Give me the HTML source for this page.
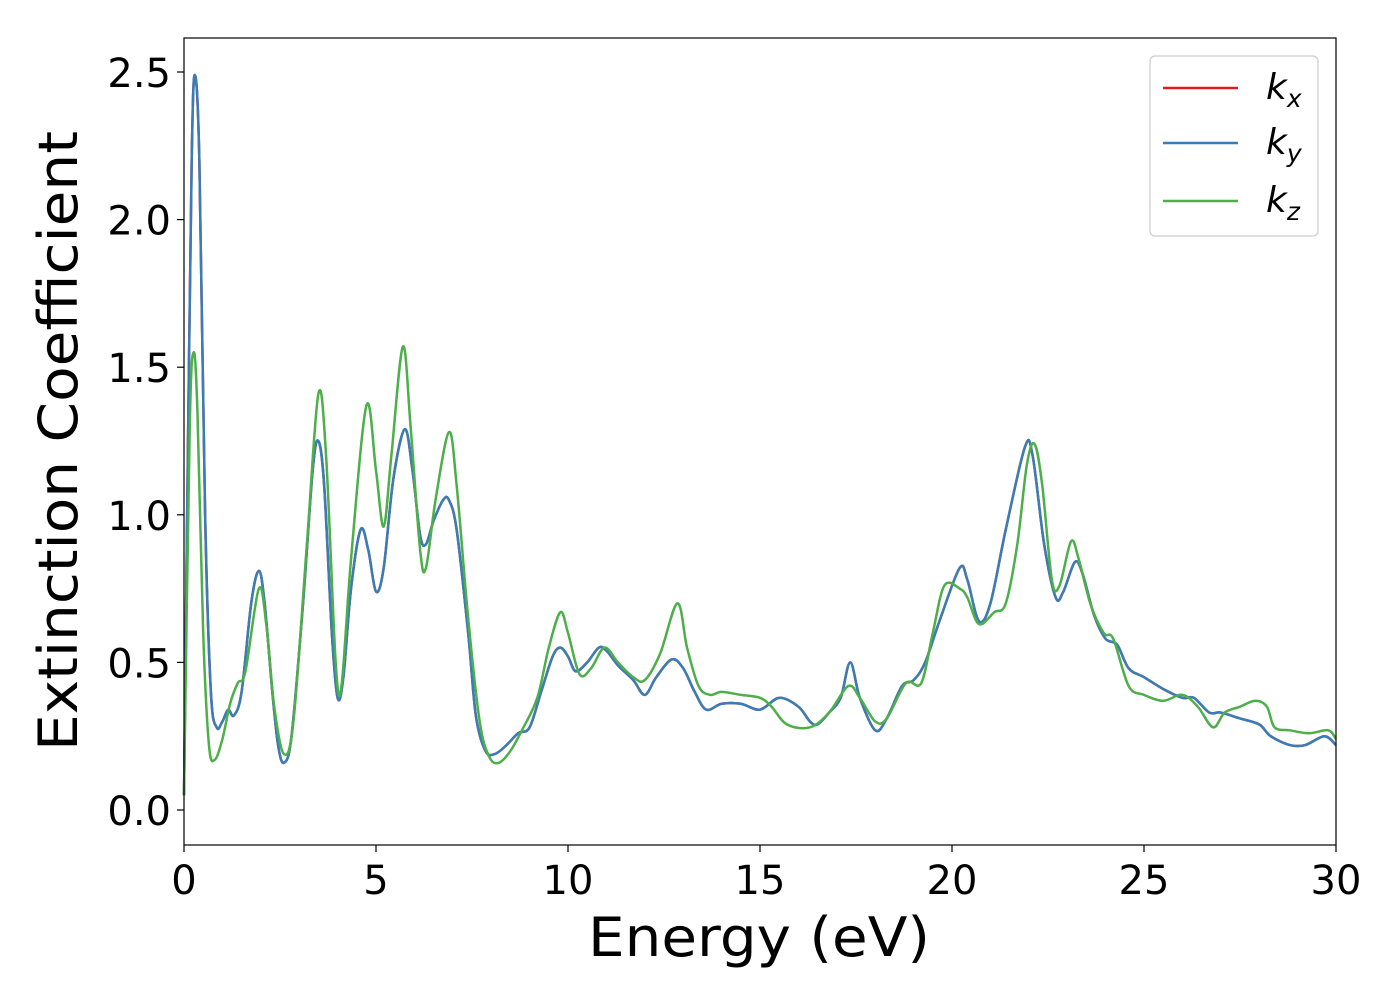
<!DOCTYPE html>
<html><head><meta charset="utf-8"><style>
body{margin:0;background:#fff;font-family:"DejaVu Sans","Liberation Sans",sans-serif;}
</style></head><body>
<svg id="chart" width="1400" height="1000" xmlns="http://www.w3.org/2000/svg" font-family="DejaVu Sans, Liberation Sans, sans-serif">
<rect width="1400" height="1000" fill="#fff"/>
<g id="series"></g>
<rect x="184" y="38" width="1152" height="807" fill="none" stroke="#000" stroke-width="1.2"/>
<g id="axes"></g>
<text x="759" y="956" font-size="54" text-anchor="middle" textLength="342" lengthAdjust="spacingAndGlyphs">Energy (eV)</text>
<text transform="translate(77,441) rotate(-90)" font-size="54" text-anchor="middle" textLength="620" lengthAdjust="spacingAndGlyphs">Extinction Coefficient</text>
<g>
<rect x="1150" y="56" width="168" height="180" rx="5" fill="#fff" stroke="#ccc" stroke-width="1.2"/>
<line x1="1163" y1="88" x2="1238" y2="88" stroke="#e41a1c" stroke-width="2.5"/>
<text x="1266" y="99" font-size="36" font-style="italic">k<tspan font-size="25" dy="8">x</tspan></text>
<line x1="1163" y1="143" x2="1238" y2="143" stroke="#377eb8" stroke-width="2.5"/>
<text x="1266" y="154" font-size="36" font-style="italic">k<tspan font-size="25" dy="8">y</tspan></text>
<line x1="1163" y1="201" x2="1238" y2="201" stroke="#4daf4a" stroke-width="2.5"/>
<text x="1266" y="212" font-size="36" font-style="italic">k<tspan font-size="25" dy="8">z</tspan></text>
</g>
</svg>
<script>
const xTicks=[0,5,10,15,20,25,30];
const yTicks=[0.0,0.5,1.0,1.5,2.0,2.5];
const yTickLabels=["0.0","0.5","1.0","1.5","2.0","2.5"];
const energyXY=[0,0.1,0.2,0.28,0.4,0.55,0.7,0.85,1.0,1.15,1.3,1.5,1.75,1.95,2.1,2.3,2.45,2.6,2.8,3.1,3.35,3.5,3.65,3.85,4.0,4.15,4.35,4.6,4.8,5.0,5.2,5.45,5.75,5.95,6.15,6.3,6.5,6.75,6.9,7.1,7.4,7.6,7.85,8.1,8.4,8.7,9.0,9.3,9.6,9.8,10.0,10.2,10.5,10.8,11.0,11.3,11.7,12.0,12.3,12.7,13.0,13.3,13.6,14.0,14.5,15.0,15.5,16.0,16.3,16.5,16.8,17.1,17.35,17.6,18.0,18.3,18.7,19.0,19.3,19.7,20.2,20.4,20.7,21.0,21.4,21.9,22.1,22.4,22.7,22.9,23.2,23.4,23.7,24.0,24.3,24.6,25.0,25.5,26.0,26.3,26.7,27.0,27.5,28.0,28.3,28.8,29.2,29.7,30];
const kx=[0.05,1.2,2.2,2.49,2.2,1.0,0.4,0.28,0.3,0.34,0.32,0.4,0.7,0.81,0.7,0.4,0.22,0.16,0.25,0.7,1.15,1.25,1.1,0.6,0.38,0.45,0.75,0.95,0.88,0.74,0.82,1.12,1.29,1.15,0.93,0.9,0.98,1.05,1.05,0.95,0.6,0.32,0.2,0.19,0.22,0.26,0.28,0.4,0.52,0.55,0.52,0.47,0.5,0.55,0.54,0.49,0.44,0.39,0.45,0.51,0.48,0.4,0.34,0.36,0.36,0.34,0.38,0.35,0.3,0.29,0.33,0.38,0.5,0.38,0.27,0.31,0.42,0.44,0.5,0.65,0.82,0.78,0.64,0.7,0.95,1.23,1.2,0.9,0.72,0.74,0.84,0.8,0.66,0.58,0.56,0.48,0.45,0.41,0.38,0.38,0.33,0.33,0.31,0.29,0.25,0.22,0.22,0.25,0.22];
const ky=kx.slice();
const energyZ=[0,0.15,0.25,0.35,0.5,0.65,0.8,1.0,1.2,1.4,1.6,1.95,2.15,2.35,2.6,2.85,3.2,3.5,3.7,3.95,4.1,4.35,4.75,5.0,5.2,5.4,5.7,5.9,6.15,6.3,6.55,6.9,7.1,7.4,7.7,7.95,8.2,8.5,8.8,9.2,9.5,9.8,10.0,10.3,10.6,10.95,11.3,11.7,12.0,12.4,12.85,13.1,13.4,13.7,14.0,14.5,15.0,15.3,15.7,16.3,16.8,17.3,17.6,18.0,18.3,18.8,19.2,19.5,19.8,20.2,20.4,20.7,21.1,21.4,21.7,21.95,22.15,22.35,22.6,22.8,23.1,23.3,23.6,23.95,24.2,24.6,25.0,25.5,26.0,26.4,26.8,27.1,27.5,27.9,28.2,28.4,28.8,29.3,29.8,30];
const kz=[0.05,1.3,1.55,1.35,0.6,0.22,0.17,0.24,0.36,0.43,0.47,0.75,0.62,0.35,0.19,0.3,0.9,1.41,1.2,0.5,0.42,0.85,1.37,1.15,0.96,1.2,1.57,1.3,0.88,0.82,1.05,1.28,1.1,0.65,0.3,0.18,0.16,0.2,0.27,0.38,0.55,0.67,0.6,0.46,0.48,0.55,0.5,0.45,0.44,0.53,0.7,0.55,0.42,0.39,0.4,0.39,0.38,0.35,0.29,0.28,0.33,0.42,0.38,0.3,0.31,0.43,0.43,0.6,0.76,0.75,0.72,0.63,0.67,0.7,0.9,1.17,1.24,1.1,0.78,0.76,0.91,0.85,0.7,0.6,0.58,0.42,0.39,0.37,0.39,0.35,0.28,0.33,0.35,0.37,0.35,0.28,0.27,0.26,0.27,0.24];

const X=v=>184+v*38.4, Y=v=>810-v*295.2;
const NS="http://www.w3.org/2000/svg";
function smooth(xs,ys){
  const p=xs.map((x,i)=>[X(x),Y(ys[i])]);
  let d="M"+p[0][0]+","+p[0][1];
  for(let i=0;i<p.length-1;i++){
    const p0=p[Math.max(i-1,0)],p1=p[i],p2=p[i+1],p3=p[Math.min(i+2,p.length-1)];
    const c1=[p1[0]+(p2[0]-p0[0])/6,p1[1]+(p2[1]-p0[1])/6];
    const c2=[p2[0]-(p3[0]-p1[0])/6,p2[1]-(p3[1]-p1[1])/6];
    d+=" C"+c1+" "+c2+" "+p2;
  }
  return d;
}
const g=document.getElementById("series");
[[energyXY,kx,"#e41a1c","series-kx"],[energyXY,ky,"#377eb8","series-ky"],[energyZ,kz,"#4daf4a","series-kz"]].forEach(s=>{
  const path=document.createElementNS(NS,"path");
  path.setAttribute("d",smooth(s[0],s[1]));
  path.setAttribute("fill","none");path.setAttribute("stroke",s[2]);path.setAttribute("stroke-width","2.5");
  
  
  g.appendChild(path);
});
const ax=document.getElementById("axes");
xTicks.forEach(t=>{
  const l=document.createElementNS(NS,"line");
  l.setAttribute("x1",X(t));l.setAttribute("x2",X(t));l.setAttribute("y1",845);l.setAttribute("y2",852);l.setAttribute("stroke","#000");l.setAttribute("stroke-width","1.2");
  
  
  ax.appendChild(l);
  const tx=document.createElementNS(NS,"text");
  tx.setAttribute("x",X(t));tx.setAttribute("y",894);tx.setAttribute("font-size","40");tx.setAttribute("text-anchor","middle");
  tx.textContent=String(t);
  
  
  ax.appendChild(tx);
});
yTicks.forEach((t,i)=>{
  const l=document.createElementNS(NS,"line");
  l.setAttribute("x1",177);l.setAttribute("x2",184);l.setAttribute("y1",Y(t));l.setAttribute("y2",Y(t));l.setAttribute("stroke","#000");l.setAttribute("stroke-width","1.2");
  
  
  ax.appendChild(l);
  const tx=document.createElementNS(NS,"text");
  tx.setAttribute("x",171);tx.setAttribute("y",Y(t)+15);tx.setAttribute("font-size","40");tx.setAttribute("text-anchor","end");
  tx.textContent=yTickLabels[i];
  
  
  ax.appendChild(tx);
});
</script>
</body></html>
